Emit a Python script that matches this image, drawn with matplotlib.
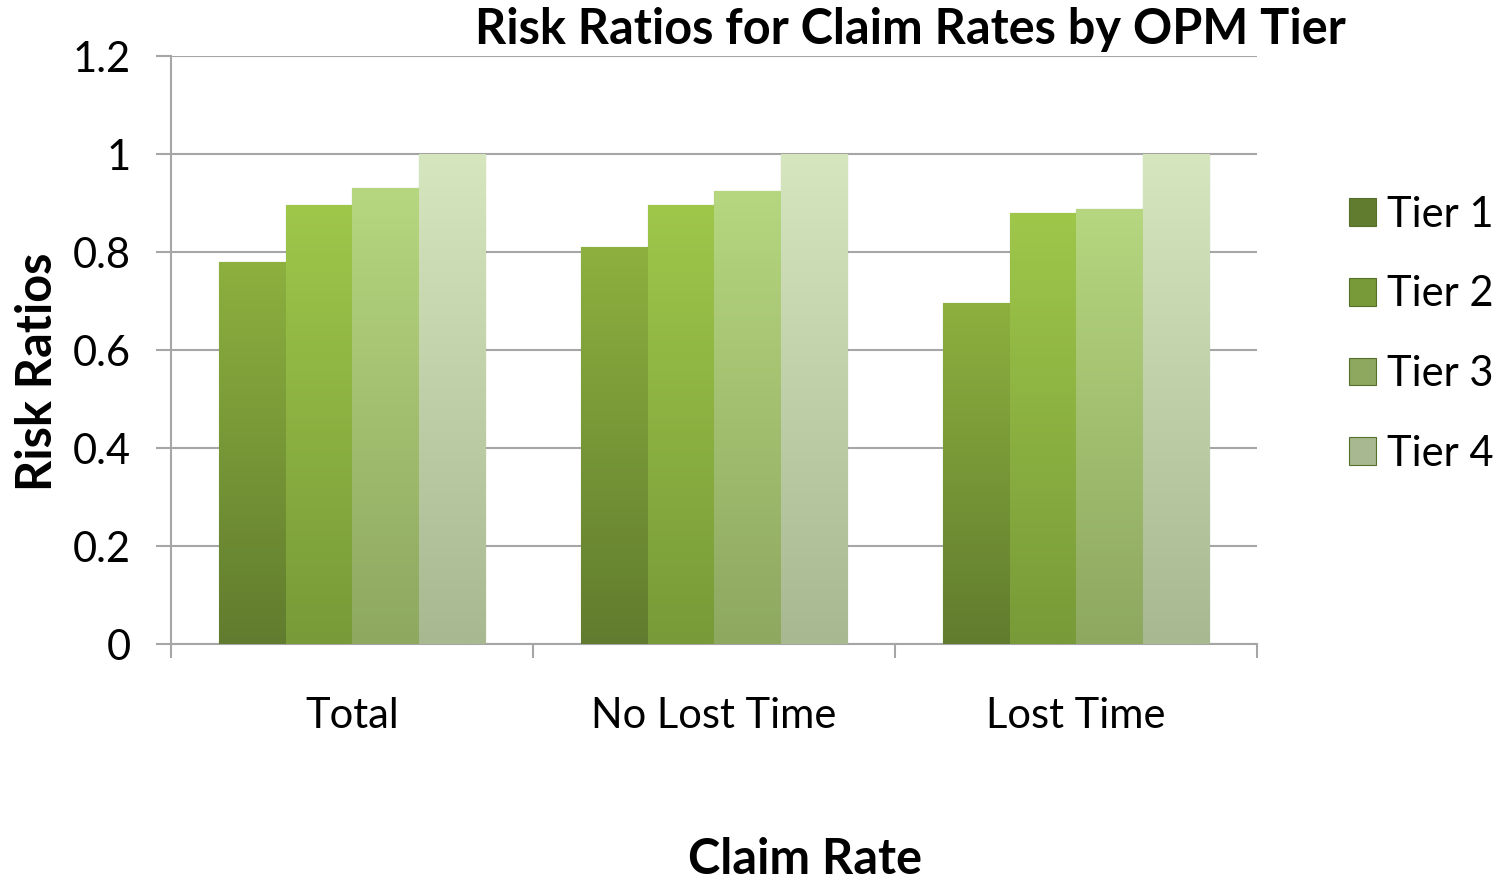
"""Risk ratios for claim rates by OPM tier, grouped gradient bars."""
import numpy as np
import matplotlib
matplotlib.use("Agg")
import matplotlib.pyplot as plt
from matplotlib.colors import LinearSegmentedColormap

CATEGORIES = ["Total", "No Lost Time", "Lost Time"]
TIERS = ["Tier 1", "Tier 2", "Tier 3", "Tier 4"]
TIER1 = [0.78, 0.81, 0.696]
TIER2 = [0.896, 0.896, 0.88]
TIER3 = [0.93, 0.924, 0.888]
TIER4 = [1.0, 1.0, 1.0]
Y_TICKS = [0, 0.2, 0.4, 0.6, 0.8, 1.0, 1.2]
Y_TICK_LABELS = ["0", "0.2", "0.4", "0.6", "0.8", "1", "1.2"]

# (top colour, bottom colour) for each tier
SHADES = [("#8db03f", "#617c2e"),
          ("#9fc74a", "#789a38"),
          ("#b6d67f", "#8ea860"),
          ("#d6e6bf", "#a8b891")]

plt.rcParams.update({"font.family": ["Lato", "DejaVu Sans"]})

FONT = 30


def gradient_bars(ax, xs, heights, width, top, bottom, label):
    bars = ax.bar(xs, heights, width, color=bottom, edgecolor="#55702a",
                  linewidth=0.8, label=label, zorder=3)
    cmap = LinearSegmentedColormap.from_list("g", [bottom, top])
    grad = np.linspace(0, 1, 256).reshape(-1, 1)
    for b in bars:
        x0, y0 = b.get_x(), b.get_y()
        w, h = b.get_width(), b.get_height()
        im = ax.imshow(grad, cmap=cmap, origin="lower", aspect="auto",
                       extent=(x0, x0 + w, y0, y0 + h), zorder=3.5)
        im.set_clip_path(b)
    return bars


def main():
    fig = plt.figure(figsize=(14.99, 8.82), dpi=100)
    ax = fig.add_axes([0.1141, 0.2698, 0.7245, 0.6667])

    x = np.arange(len(CATEGORIES))
    width = 0.735 / 4
    series = [TIER1, TIER2, TIER3, TIER4]
    handles = []
    for i, (vals, (top, bot), lab) in enumerate(zip(series, SHADES, TIERS)):
        bars = gradient_bars(ax, x + (i - 1.5) * width, vals, width, top, bot, lab)
        handles.append(bars)

    ax.set_xlim(-0.5, 2.5)
    ax.set_ylim(0, 1.2)
    ax.set_yticks(Y_TICKS)
    ax.set_yticklabels(Y_TICK_LABELS, fontsize=FONT)
    ax.yaxis.grid(True, color="#a6a6a6", lw=1.5, zorder=0)
    ax.set_axisbelow(True)

    ax.set_xticks([-0.5, 0.5, 1.5, 2.5])
    ax.set_xticklabels([])
    ax.set_xticks(x, minor=True)
    ax.set_xticklabels(CATEGORIES, minor=True, fontsize=FONT)
    ax.tick_params(axis="x", which="minor", length=0, pad=38)
    ax.tick_params(axis="x", which="major", length=10, width=1.5, color="#a6a6a6")
    ax.tick_params(axis="y", length=11, width=1.5, color="#a6a6a6", pad=18)

    for s in ("top", "right"):
        ax.spines[s].set_visible(False)
    for s in ("left", "bottom"):
        ax.spines[s].set_color("#a6a6a6")
        ax.spines[s].set_linewidth(1.5)

    fig.text(0.607, 0.966, "Risk Ratios for Claim Rates by OPM Tier",
             ha="center", va="center", fontsize=35, fontweight="bold")
    fig.text(0.537, 0.025, "Claim Rate", ha="center", va="center",
             fontsize=35, fontweight="bold")
    fig.text(0.025, 0.579, "Risk Ratios", ha="center", va="center",
             rotation=90, fontsize=35, fontweight="bold")

    fig.legend(handles=[h.patches[0] for h in handles], labels=TIERS,
               loc="upper left", bbox_to_anchor=(0.9, 0.778),
               frameon=False, fontsize=FONT, handlelength=0.65,
               handleheight=0.65, handletextpad=0.25, labelspacing=1.0,
               borderpad=0, borderaxespad=0)

    fig.savefig("out.png", dpi=100)
    plt.close(fig)


if __name__ == "__main__":
    main()
